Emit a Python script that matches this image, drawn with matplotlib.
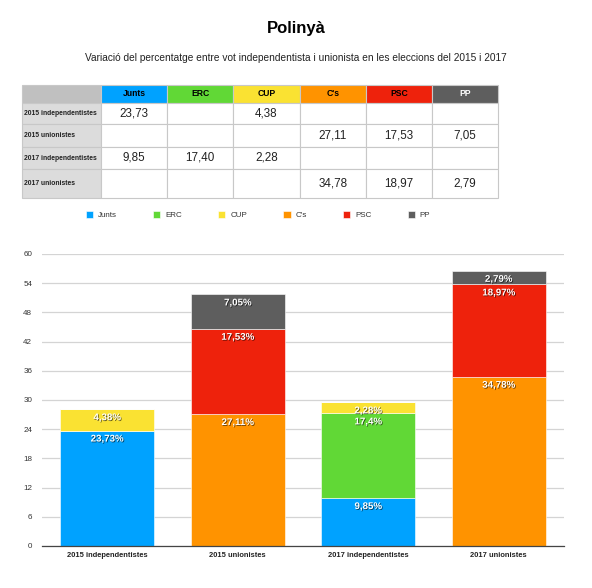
import matplotlib
matplotlib.use("Agg")
import matplotlib.pyplot as plt
import matplotlib.patheffects as pe
import numpy as np

plt.rcParams['font.family'] = ['Liberation Sans', 'DejaVu Sans']

categories = ['2015 independentistes', '2015 unionistes', '2017 independentistes', '2017 unionistes']
parties = ['Junts', 'ERC', 'CUP', "C's", 'PSC', 'PP']
junts = [23.73, None, 9.85, None]
erc = [None, None, 17.40, None]
cup = [4.38, None, 2.28, None]
cs = [None, 27.11, None, 34.78]
psc = [None, 17.53, None, 18.97]
pp = [None, 7.05, None, 2.79]
colors = ['#00A2FF', '#61D836', '#FAE232', '#FF9300', '#EE220C', '#5E5E5E']
yticks = [0, 6, 12, 18, 24, 30, 36, 42, 48, 54, 60]

series = [junts, erc, cup, cs, psc, pp]

W, H = 592, 588
fig = plt.figure(figsize=(W / 100, H / 100), dpi=100)

fig.text(0.5, 1 - 28 / H, 'Polinyà', ha='center', va='center', fontsize=12, fontweight='bold')
fig.text(0.5, 1 - 58 / H, 'Variació del percentatge entre vot independentista i unionista en les eleccions del 2015 i 2017',
         ha='center', va='center', fontsize=7.3, color='#222222')

# ---- table ----
def fmt_tab(v):
    return '' if v is None else f'{v:.2f}'.replace('.', ',')

cell_text = [[''] + parties]
for i, c in enumerate(categories):
    cell_text.append([c] + [fmt_tab(s[i]) for s in series])

tax = fig.add_axes([22 / W, 1 - 198 / H, 476 / W, 113 / H])
tax.axis('off')
col_px = [79, 66, 66, 67, 66, 66, 66]
row_px = [18, 21, 23, 22, 29]
tbl = tax.table(cellText=cell_text, colWidths=[c / sum(col_px) for c in col_px],
                cellLoc='center', bbox=[0, 0, 1, 1])
tbl.auto_set_font_size(False)
for (r, c), cell in tbl.get_celld().items():
    cell.set_height(row_px[r] / sum(row_px))
    cell.set_edgecolor('#c8c8c8')
    cell.set_linewidth(0.8)
    txt = cell.get_text()
    if r == 0 and c == 0:
        cell.set_facecolor('#c0c0c0')
    elif r == 0:
        cell.set_facecolor(colors[c - 1])
        txt.set_fontweight('bold')
        txt.set_fontsize(6.2)
        txt.set_color('white' if parties[c - 1] == 'PP' else 'black')
    elif c == 0:
        cell.set_facecolor('#dcdcdc')
        txt.set_fontweight('bold')
        txt.set_fontsize(4.9)
        txt.set_color('#222222')
        cell.PAD = 0.03
        cell._loc = 'left'
        txt.set_ha('left')
    else:
        cell.set_facecolor('white')
        txt.set_fontsize(8.4)
        txt.set_color('#222222')

# ---- bar chart ----
ax = fig.add_axes([42 / W, 1 - 546 / H, 522 / W, 292 / H])
x = np.arange(len(categories))
bottom = np.zeros(len(categories))
handles = []
for name, vals, col in zip(parties, series, colors):
    v = np.array([0 if a is None else a for a in vals], dtype=float)
    b = ax.bar(x, v, 0.72, bottom=bottom, color=col, label=name, zorder=3,
               edgecolor='white', linewidth=0.4)
    handles.append(b)
    for xi, vi, bi in zip(x, v, bottom):
        if vi > 0:
            lab = f'{vi:g}'.replace('.', ',') + '%'
            ax.annotate(lab, (xi, bi + vi), xytext=(0, -8), textcoords='offset pixels',
                        ha='center', va='center', color='white', fontsize=7, fontweight='bold',
                        zorder=5,
                        path_effects=[pe.SimplePatchShadow(offset=(0.6, -0.6), shadow_rgbFace='black', alpha=0.6),
                                      pe.Normal()])
    bottom = bottom + v

ax.set_xlim(-0.5, 3.5)
ax.set_ylim(0, 60)
ax.set_yticks(yticks)
ax.set_yticklabels([str(t) for t in yticks], fontsize=5.8, color='#333333')
ax.set_xticks(x)
ax.set_xticklabels(categories, fontsize=5.4, fontweight='bold', color='#222222')
ax.tick_params(axis='both', length=0)
ax.tick_params(axis='y', pad=7)
ax.tick_params(axis='x', pad=4)
ax.yaxis.grid(True, color='#d4d4d4', linewidth=0.9, zorder=0)
for s in ['top', 'right', 'left']:
    ax.spines[s].set_visible(False)
ax.spines['bottom'].set_color('#444444')
ax.spines['bottom'].set_linewidth(0.9)
ax.spines['bottom'].set_zorder(4)

fig.legend(handles=handles, labels=parties, loc='center', bbox_to_anchor=(258 / W, 1 - 215 / H),
           ncol=6, frameon=False, fontsize=5.8, handlelength=0.9, handleheight=0.9,
           handletextpad=0.6, columnspacing=4.5, labelcolor='#333333')

fig.savefig('out.png', dpi=100)
